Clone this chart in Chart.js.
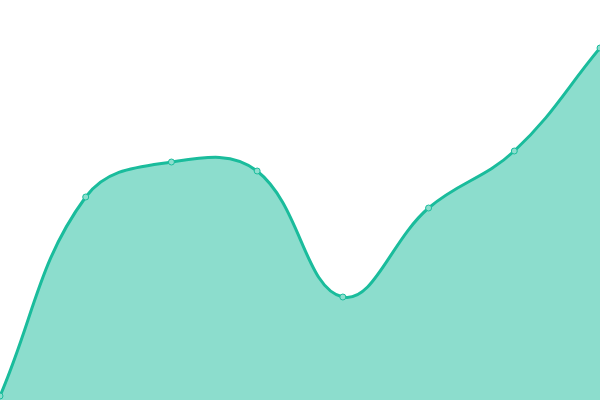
<!DOCTYPE html>
<html><head><meta charset="utf-8">
<script src="https://cdn.jsdelivr.net/npm/chart.js@4"></script>
<style>html,body{margin:0;padding:0;background:#fff}#w{width:600px;height:400px}</style>
</head><body><div id="w"><canvas id="c"></canvas></div>
<script>
const categories = ["1","2","3","4","5","6","7","8"];
const seriesValues = [1, 50.75, 59.5, 57.25, 25.75, 48, 62.25, 88];
const yMin = 0, yMax = 100;
new Chart(document.getElementById('c'), {
  type: 'line',
  data: { labels: categories, datasets: [{
    data: seriesValues,
    borderColor: '#1abc9c',
    backgroundColor: 'rgba(26,188,156,0.5)',
    pointBackgroundColor: '#8ddece',
    pointBorderColor: '#1abc9c',
    pointBorderWidth: 1,
    pointRadius: 3,
    borderWidth: 3,
    fill: true,
    tension: 0.4
  }]},
  options: {
    responsive: true, maintainAspectRatio: false, animation: false,
    layout: { padding: 0, autoPadding: false },
    plugins: { legend: { display: false }, tooltip: { enabled: false } },
    scales: {
      x: { display: false, offset: false },
      y: { display: false, min: yMin, max: yMax }
    }
  }
});
</script></body></html>
